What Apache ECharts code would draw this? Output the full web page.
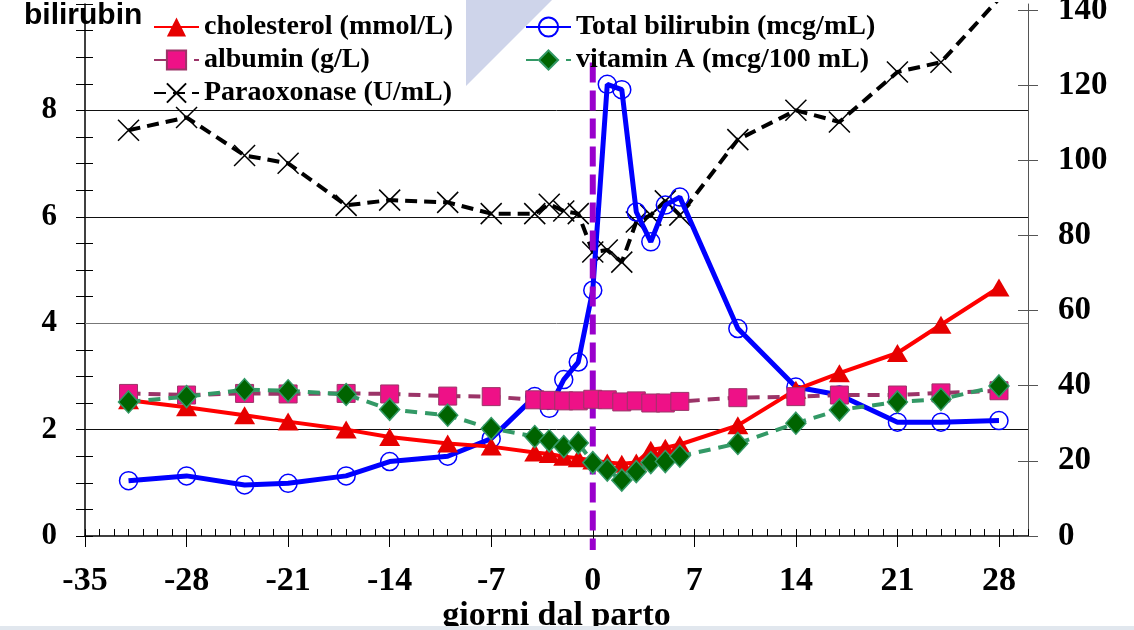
<!DOCTYPE html>
<html>
<head>
<meta charset="utf-8">
<script src="https://cdn.jsdelivr.net/npm/echarts@6/dist/echarts.min.js"></script>
<style>
  html, body { margin: 0; padding: 0; background: #ffffff; }
  #chart { width: 1134px; height: 630px; }
</style>
</head>
<body>
<div id="chart"></div>
<script>
// Days relative to calving
const days = [-32, -28, -24, -21, -17, -14, -10, -7, -4, -3, -2, -1, 0, 1, 2, 3, 4, 5, 6, 10, 14, 17, 21, 24, 28];

// Left-axis series
const cholesterol = [2.55, 2.42, 2.27, 2.15, 2.00, 1.86, 1.74, 1.68, 1.57, 1.54, 1.49, 1.46, 1.42, 1.38, 1.36, 1.38, 1.62, 1.66, 1.72, 2.08, 2.75, 3.06, 3.44, 3.97, 4.67];
const albumin = [2.68, 2.65, 2.68, 2.67, 2.68, 2.67, 2.63, 2.62, 2.56, 2.55, 2.54, 2.54, 2.57, 2.56, 2.52, 2.54, 2.50, 2.50, 2.53, 2.60, 2.62, 2.65, 2.65, 2.69, 2.73];
const vitaminA = [2.52, 2.62, 2.75, 2.73, 2.66, 2.38, 2.27, 2.02, 1.87, 1.79, 1.68, 1.75, 1.38, 1.24, 1.05, 1.21, 1.38, 1.40, 1.50, 1.74, 2.12, 2.37, 2.52, 2.57, 2.82];
const bilirubin = [1.04, 1.13, 0.96, 0.99, 1.13, 1.40, 1.50, 1.83, 2.62, 2.40, 2.94, 3.27, 4.62, 8.49, 8.39, 6.09, 5.53, 6.22, 6.37, 3.90, 2.80, 2.65, 2.14, 2.14, 2.17];

// Right-axis series
const paraoxonase = [108.0, 111.4, 101.3, 99.2, 88.0, 89.4, 88.8, 85.8, 85.8, 88.3, 86.5, 85.8, 75.6, 76.1, 72.9, 83.6, 85.4, 89.2, 85.4, 105.5, 113.3, 110.2, 123.5, 126.1, 143.0];

// Tick labels
const xTickValues = [-35, -28, -21, -14, -7, 0, 7, 14, 21, 28];
const leftLabelValues = [0, 2, 4, 6, 8];
const rightTickValues = [0, 20, 40, 60, 80, 100, 120, 140];
const gridLevels = [2, 4, 6, 8];

// Calving day marker (vertical dashed line), spanning from this level down past the axis
const calvingDay = 0;
const calvingTop = 8.9;

const seriesNames = {
  chol: 'cholesterol (mmol/L)',
  alb: 'albumin (g/L)',
  pon: 'Paraoxonase (U/mL)',
  bil: 'Total bilirubin (mcg/mL)',
  vita: 'vitamin A (mcg/100 mL)'
};

function pairs(values) {
  return days.map((d, i) => [d, values[i]]);
}

const serif = '"Liberation Serif", "Times New Roman", serif';
const labelFont = { fontFamily: serif, fontWeight: 'bold', color: '#000' };

const chart = echarts.init(document.getElementById('chart'), null, { renderer: 'canvas' });

const legendText = Object.assign({ fontSize: 28 }, labelFont);

const decorations = [
  {
    type: 'polygon',
    z: -1,
    shape: { points: [[466, 0], [552, 0], [466, 86]] },
    style: { fill: '#CED4EA' }
  },
  {
    type: 'rect',
    z: 100,
    shape: { x: 0, y: 626, width: 1134, height: 4 },
    style: { fill: '#E1E7EE' }
  }
];

const option = {
  animation: false,
  backgroundColor: '#ffffff',
  title: {
    text: 'bilirubin',
    left: 24,
    top: 1,
    padding: 0,
    textStyle: { fontFamily: '"Liberation Sans", Arial, sans-serif', fontWeight: 'bold', fontSize: 30, color: '#000' }
  },
  graphic: decorations,
  legend: [
    {
      left: 153, top: 13, padding: 0, orient: 'vertical', itemGap: 5,
      itemWidth: 45, itemHeight: 24,
      data: [seriesNames.chol, seriesNames.alb, seriesNames.pon],
      textStyle: legendText
    },
    {
      left: 525, top: 13, padding: 0, orient: 'vertical', itemGap: 5,
      itemWidth: 45, itemHeight: 24,
      data: [seriesNames.bil, seriesNames.vita],
      textStyle: legendText
    }
  ],
  grid: { left: 85, right: 106, top: 4, bottom: 94, containLabel: false, outerBoundsMode: 'none' },
  xAxis: [
    {
      // minor day ticks, pointing inward
      type: 'value', position: 'bottom', min: -35, max: 30, interval: 1,
      axisLine: { show: true, onZero: false, lineStyle: { color: '#000', width: 1.5 } },
      axisTick: { show: true, inside: true, length: 7, lineStyle: { color: '#000', width: 1 } },
      axisLabel: { show: false },
      splitLine: { show: false }
    },
    {
      // weekly ticks and labels
      type: 'value', position: 'bottom', min: -35, max: 30,
      axisLine: { show: false, onZero: false },
      axisTick: { show: true, inside: false, length: 11, customValues: xTickValues, lineStyle: { color: '#000', width: 1 } },
      axisLabel: Object.assign({ show: true, fontSize: 34, margin: 28, customValues: xTickValues }, labelFont),
      splitLine: { show: false },
      name: 'giorni dal parto',
      nameLocation: 'middle',
      nameGap: 63,
      nameMoveOverlap: false,
      nameTextStyle: Object.assign({ fontSize: 34, verticalAlign: 'top' }, labelFont)
    }
  ],
  yAxis: [
    {
      type: 'value', position: 'left', min: 0, max: 10, interval: 0.5,
      axisLine: { show: true, onZero: false, lineStyle: { color: '#000', width: 1.5 } },
      axisTick: { show: true, inside: false, length: 9, lineStyle: { color: '#000', width: 1 } },
      axisLabel: Object.assign({ show: true, fontSize: 31, margin: 28, customValues: leftLabelValues }, labelFont),
      splitLine: { show: false }
    },
    {
      type: 'value', position: 'right', min: 0, max: 141.6,
      axisLine: { show: true, onZero: false, lineStyle: { color: '#555', width: 1 } },
      axisTick: { show: true, inside: false, length: 10, customValues: rightTickValues, lineStyle: { color: '#555', width: 1 } },
      axisLabel: Object.assign({ show: true, fontSize: 33, margin: 30, customValues: rightTickValues }, labelFont),
      splitLine: { show: false }
    },
    {
      type: 'value', position: 'left', min: 0, max: 10, interval: 0.5,
      axisLine: { show: false, onZero: false },
      axisTick: { show: true, inside: true, length: 8, lineStyle: { color: '#000', width: 1 } },
      axisLabel: { show: false },
      splitLine: { show: false }
    },
    {
      type: 'value', position: 'right', min: 0, max: 141.6,
      axisLine: { show: false, onZero: false },
      axisTick: { show: true, inside: true, length: 10, customValues: rightTickValues, lineStyle: { color: '#555', width: 1 } },
      axisLabel: { show: false },
      splitLine: { show: false }
    }
  ],
  series: [
    {
      name: seriesNames.pon, type: 'line', yAxisIndex: 1, data: pairs(paraoxonase),
      color: '#000',
      symbol: 'path://M0,0L10,10M10,0L0,10', symbolSize: 21,
      itemStyle: { color: 'rgba(0,0,0,0)', borderColor: '#000', borderWidth: 1.5 },
      lineStyle: { color: '#000', width: 4, type: [12, 7] },
      z: 2
    },
    {
      name: seriesNames.bil, type: 'line', data: pairs(bilirubin),
      color: '#0000FF',
      symbol: 'circle', symbolSize: 18,
      itemStyle: { color: 'rgba(255,255,255,0)', borderColor: '#0000FF', borderWidth: 1.5 },
      lineStyle: { color: '#0000FF', width: 5 },
      z: 3
    },
    {
      name: seriesNames.chol, type: 'line', data: pairs(cholesterol),
      color: '#FF0000',
      symbol: 'triangle', symbolSize: [21, 18],
      itemStyle: { color: '#E60000' },
      lineStyle: { color: '#FF0000', width: 4 },
      z: 4
    },
    {
      name: seriesNames.alb, type: 'line', data: pairs(albumin),
      color: '#9B3468',
      symbol: 'rect', symbolSize: 18,
      itemStyle: { color: '#EE1187', borderColor: '#9B3468', borderWidth: 1 },
      lineStyle: { color: '#9B3468', width: 4, type: [12, 8] },
      z: 5,
      markLine: {
        silent: true, symbol: 'none', z: 1, animation: false,
        label: { show: false },
        lineStyle: { color: '#000', width: 1, type: 'solid' },
        data: gridLevels.map(v => ({ yAxis: v, lineStyle: { color: v === 4 ? '#777' : '#111' } }))
      }
    },
    {
      name: seriesNames.vita, type: 'line', data: pairs(vitaminA),
      color: '#339966',
      symbol: 'diamond', symbolSize: [20, 22],
      itemStyle: { color: '#006400', borderColor: '#339966', borderWidth: 1.5 },
      lineStyle: { color: '#339966', width: 4, type: [12, 8] },
      z: 6
    }
  ]
};

chart.setOption(option);

// Calving-day marker: positioned through the chart's own scales, extending slightly below the x axis
const xPix = chart.convertToPixel({ xAxisIndex: 0 }, calvingDay);
const yTopPix = chart.convertToPixel({ yAxisIndex: 0 }, calvingTop);
const yBasePix = chart.convertToPixel({ yAxisIndex: 0 }, 0);
chart.setOption({
  graphic: decorations.concat([
    {
      type: 'line',
      z: 4,
      silent: true,
      shape: { x1: xPix, y1: yTopPix, x2: xPix, y2: yBasePix + 14 },
      style: { stroke: '#9900CC', lineWidth: 6, lineDash: [20, 8] }
    }
  ])
});
</script>
</body>
</html>
